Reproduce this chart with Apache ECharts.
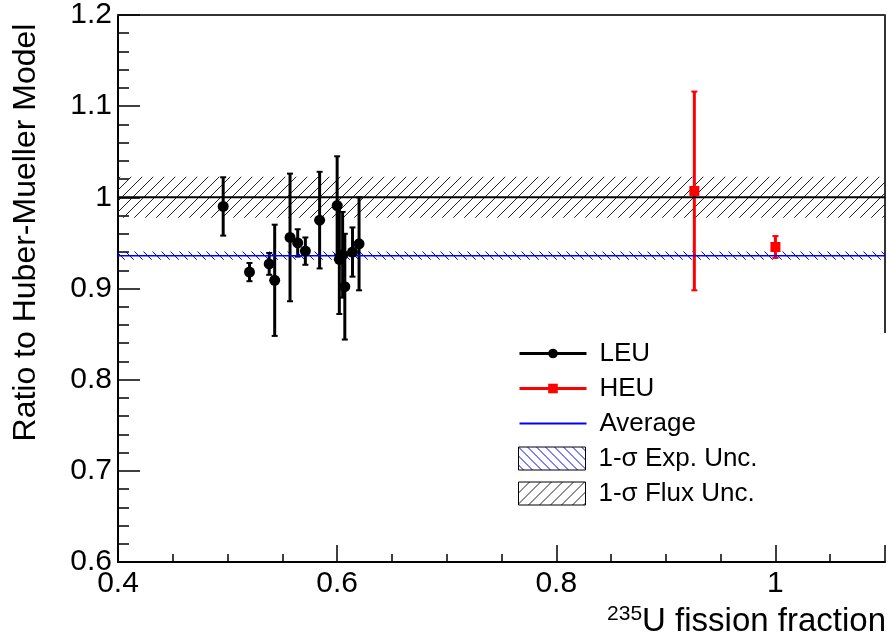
<!DOCTYPE html>
<html>
<head>
<meta charset="utf-8">
<script src="https://cdn.jsdelivr.net/npm/echarts@6/dist/echarts.min.js"></script>
<style>
  html, body { margin: 0; padding: 0; background: #fff; }
  #chart { width: 887px; height: 637px; }
</style>
</head>
<body>
<div id="chart"></div>
<script>
// LEU reactors: 235U fission fraction, ratio, error
const LEU_X = [0.496, 0.520, 0.538, 0.543, 0.557, 0.564, 0.571, 0.584, 0.600, 0.602, 0.605, 0.607, 0.614, 0.620];
const LEU_Y = [0.990, 0.918, 0.927, 0.909, 0.956, 0.950, 0.941, 0.975, 0.991, 0.932, 0.937, 0.902, 0.940, 0.949];
const LEU_ERR = [0.032, 0.010, 0.012, 0.061, 0.070, 0.015, 0.015, 0.053, 0.054, 0.060, 0.047, 0.058, 0.027, 0.051];

// HEU reactors
const HEU_X = [0.926, 1.000];
const HEU_Y = [1.007, 0.9455];
const HEU_ERR = [0.109, 0.012];

// model line with flux unc., measured average with exp. unc.
const FLUX = [1.0, 0.0225];
const AVG = [0.936, 0.0045];

const FONT = 'Liberation Sans, Arial, sans-serif';

function hatch(color, rising, step) {
    const c = document.createElement('canvas');
    c.width = step; c.height = step;
    const g = c.getContext('2d');
    g.strokeStyle = color;
    g.lineWidth = 1;
    g.beginPath();
    if (rising) {
        g.moveTo(-1, step + 1); g.lineTo(step + 1, -1);
    } else {
        g.moveTo(-1, -1); g.lineTo(step + 1, step + 1);
    }
    g.stroke();
    return { image: c, repeat: 'repeat' };
}
const fluxFill = hatch('#222', true, 11);
const expFill = hatch('#0000ff', false, 9);

function pairs(xs, ys, es) {
    return xs.map((x, i) => es ? [x, ys[i], es[i]] : [x, ys[i]]);
}

function errorBar(color) {
    return function (params, api) {
        const x = api.value(0), y = api.value(1), e = api.value(2);
        const top = api.coord([x, y + e]);
        const bot = api.coord([x, y - e]);
        return {
            type: 'group',
            children: [
                { type: 'line', shape: { x1: top[0], y1: top[1], x2: bot[0], y2: bot[1] }, style: { stroke: color, lineWidth: 3 } },
                { type: 'line', shape: { x1: top[0] - 3, y1: top[1], x2: top[0] + 3, y2: top[1] }, style: { stroke: color, lineWidth: 2 } },
                { type: 'line', shape: { x1: bot[0] - 3, y1: bot[1], x2: bot[0] + 3, y2: bot[1] }, style: { stroke: color, lineWidth: 2 } }
            ]
        };
    };
}

function band(fill) {
    return function (params, api) {
        const m = api.value(0), e = api.value(1);
        const cs = params.coordSys;
        const yTop = api.coord([0.4, m + e])[1];
        const yBot = api.coord([0.4, m - e])[1];
        return {
            type: 'rect',
            shape: { x: cs.x, y: yTop, width: cs.width, height: yBot - yTop },
            style: { fill: fill }
        };
    };
}

const chart = echarts.init(document.getElementById('chart'));
chart.setOption({
    animation: false,
    textStyle: { fontFamily: FONT },
    grid: { left: 118, right: 2, top: 15, bottom: 75, outerBoundsMode: 'none', containLabel: false },
    xAxis: [{
        type: 'value',
        min: 0.4, max: 1.1, interval: 0.2,
        name: '{s|235}U fission fraction',
        nameLocation: 'middle',
        nameGap: 36,
        nameTextStyle: {
            fontFamily: FONT, fontSize: 33, color: '#000',
            lineHeight: 36,
            padding: [0, 0, 0, 490],
            rich: { s: { fontFamily: FONT, fontSize: 21, lineHeight: 20, verticalAlign: 'top', color: '#000' } }
        },
        axisLine: { onZero: false, lineStyle: { color: '#000', width: 2 } },
        axisTick: { inside: true, length: 17, lineStyle: { color: '#000', width: 1.5 } },
        minorTick: { show: true, splitNumber: 4, length: 8, lineStyle: { color: '#000', width: 1.5 } },
        axisLabel: { fontFamily: FONT, fontSize: 30, color: '#000', margin: 7, showMaxLabel: false },
        splitLine: { show: false }
    }, {
        type: 'value', position: 'top',
        min: 0.4, max: 1.1,
        axisLine: { onZero: false, lineStyle: { color: '#333', width: 2 } },
        axisTick: { show: false }, axisLabel: { show: false }, splitLine: { show: false }
    }],
    yAxis: {
        type: 'value',
        min: 0.6, max: 1.2, interval: 0.1,
        name: 'Ratio to Huber-Mueller Model',
        nameLocation: 'middle',
        nameGap: 76,
        nameTextStyle: { fontFamily: FONT, fontSize: 32, color: '#000', padding: [0, 0, 0, 112] },
        axisLine: { lineStyle: { color: '#000', width: 2 } },
        axisTick: { inside: true, length: 22, lineStyle: { color: '#000', width: 1.5 } },
        minorTick: { show: true, splitNumber: 5, length: 11, lineStyle: { color: '#000', width: 1.5 } },
        axisLabel: { fontFamily: FONT, fontSize: 30, color: '#000', margin: 6 },
        splitLine: { show: false }
    },
    legend: [{
        orient: 'vertical', left: 518, top: 336, padding: 0, itemGap: 0,
        itemWidth: 67, itemHeight: 12,
        selectedMode: false,
        textStyle: { fontFamily: FONT, fontSize: 26, color: '#000', lineHeight: 35, padding: [0, 0, 0, 8] },
        data: [
            { name: 'LEU', lineStyle: { color: '#000', width: 3, opacity: 1 } },
            { name: 'HEU', lineStyle: { color: '#ff0000', width: 3, opacity: 1 } },
            { name: 'Average', itemStyle: { opacity: 0 } }
        ]
    }, {
        orient: 'vertical', left: 518, top: 441, padding: 0, itemGap: 0,
        itemWidth: 67, itemHeight: 23, icon: 'rect',
        selectedMode: false,
        textStyle: { fontFamily: FONT, fontSize: 26, color: '#000', lineHeight: 35, padding: [0, 0, 0, 8] },
        data: [
            { name: '1-σ Exp. Unc.', itemStyle: { borderColor: '#000', borderWidth: 1 } },
            { name: '1-σ Flux Unc.', itemStyle: { borderColor: '#000', borderWidth: 1 } }
        ]
    }],
    graphic: [{
        type: 'line', silent: true,
        shape: { x1: 885, y1: 15, x2: 885, y2: 333 },
        style: { stroke: '#333', lineWidth: 2 }
    }],
    series: [
        {
            name: '1-σ Flux Unc.', type: 'custom', renderItem: band(fluxFill),
            itemStyle: { color: fluxFill }, data: [FLUX], silent: true
        },
        {
            name: '1-σ Exp. Unc.', type: 'custom', renderItem: band(expFill),
            itemStyle: { color: expFill }, data: [AVG], silent: true
        },
        {
            name: 'Model', type: 'line', symbol: 'none', silent: true,
            lineStyle: { color: '#000', width: 2 },
            data: [[0.4, FLUX[0]], [1.1, FLUX[0]]]
        },
        {
            name: 'Average', type: 'line', symbol: 'none', silent: true,
            lineStyle: { color: '#0000ff', width: 1.5 }, itemStyle: { color: '#0000ff' },
            data: [[0.4, AVG[0]], [1.1, AVG[0]]]
        },
        {
            name: 'LEU err', type: 'custom', renderItem: errorBar('#000'), silent: true,
            data: pairs(LEU_X, LEU_Y, LEU_ERR)
        },
        {
            name: 'HEU err', type: 'custom', renderItem: errorBar('#ff0000'), silent: true,
            data: pairs(HEU_X, HEU_Y, HEU_ERR)
        },
        {
            name: 'LEU', type: 'line', symbol: 'circle', symbolSize: 11, silent: true,
            itemStyle: { color: '#000' }, lineStyle: { color: '#000', opacity: 0 },
            data: pairs(LEU_X, LEU_Y)
        },
        {
            name: 'HEU', type: 'line', symbol: 'rect', symbolSize: 10, silent: true,
            itemStyle: { color: '#ff0000' }, lineStyle: { color: '#ff0000', opacity: 0 },
            data: pairs(HEU_X, HEU_Y)
        }
    ]
});
</script>
</body>
</html>
